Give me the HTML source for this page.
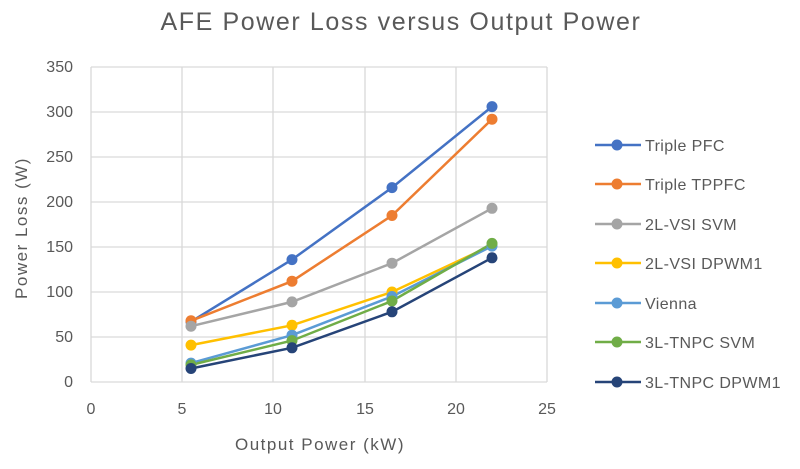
<!DOCTYPE html><html><head><style>body{margin:0;background:#fff}svg text{font-family:"Liberation Sans",sans-serif;fill:#595959}</style></head><body>
<svg width="800" height="464" xmlns="http://www.w3.org/2000/svg">
<text x="401" y="30" font-size="25" letter-spacing="1.6" text-anchor="middle">AFE Power Loss versus Output Power</text>
<g stroke="#d9d9d9" stroke-width="1.3">
<line x1="91" y1="67" x2="547" y2="67"/><line x1="91" y1="112" x2="547" y2="112"/><line x1="91" y1="157" x2="547" y2="157"/><line x1="91" y1="202" x2="547" y2="202"/><line x1="91" y1="247" x2="547" y2="247"/><line x1="91" y1="292" x2="547" y2="292"/><line x1="91" y1="337" x2="547" y2="337"/><line x1="91" y1="382" x2="547" y2="382"/>
<line x1="91" y1="67" x2="91" y2="382"/><line x1="182" y1="67" x2="182" y2="382"/><line x1="273" y1="67" x2="273" y2="382"/><line x1="365" y1="67" x2="365" y2="382"/><line x1="456" y1="67" x2="456" y2="382"/><line x1="547" y1="67" x2="547" y2="382"/>
</g>
<g font-size="16" text-anchor="end">
<text x="73" y="72">350</text><text x="73" y="117">300</text><text x="73" y="162">250</text><text x="73" y="207">200</text><text x="73" y="252">150</text><text x="73" y="297">100</text><text x="73" y="342">50</text><text x="73" y="387">0</text></g>
<g font-size="16" text-anchor="middle">
<text x="91" y="414">0</text><text x="182" y="414">5</text><text x="273" y="414">10</text><text x="365" y="414">15</text><text x="456" y="414">20</text><text x="547" y="414">25</text></g>
<text x="320" y="450" font-size="17" letter-spacing="1.5" text-anchor="middle">Output Power (kW)</text>
<text transform="translate(27,228) rotate(-90)" font-size="17" letter-spacing="1.5" text-anchor="middle">Power Loss (W)</text>
<g stroke-width="2.5" fill="none">
<polyline stroke="#4472C4" points="191,321.7 292,259.6 392,187.6 492,106.6"/>
<polyline stroke="#ED7D31" points="191,320.8 292,281.2 392,215.5 492,119.2"/>
<polyline stroke="#A5A5A5" points="191,326.2 292,301.9 392,263.2 492,208.3"/>
<polyline stroke="#FFC000" points="191,345.1 292,325.3 392,292 492,245.2"/>
<polyline stroke="#5B9BD5" points="191,363.1 292,335.2 392,296.5 492,246.1"/>
<polyline stroke="#70AD47" points="191,364.9 292,340.6 392,301 492,243.4"/>
<polyline stroke="#264478" points="191,368.5 292,347.8 392,311.8 492,257.8"/>
</g>
<g>
<g fill="#4472C4"><circle cx="191" cy="321.7" r="5.5"/><circle cx="292" cy="259.6" r="5.5"/><circle cx="392" cy="187.6" r="5.5"/><circle cx="492" cy="106.6" r="5.5"/></g>
<g fill="#ED7D31"><circle cx="191" cy="320.8" r="5.5"/><circle cx="292" cy="281.2" r="5.5"/><circle cx="392" cy="215.5" r="5.5"/><circle cx="492" cy="119.2" r="5.5"/></g>
<g fill="#A5A5A5"><circle cx="191" cy="326.2" r="5.5"/><circle cx="292" cy="301.9" r="5.5"/><circle cx="392" cy="263.2" r="5.5"/><circle cx="492" cy="208.3" r="5.5"/></g>
<g fill="#FFC000"><circle cx="191" cy="345.1" r="5.5"/><circle cx="292" cy="325.3" r="5.5"/><circle cx="392" cy="292" r="5.5"/><circle cx="492" cy="245.2" r="5.5"/></g>
<g fill="#5B9BD5"><circle cx="191" cy="363.1" r="5.5"/><circle cx="292" cy="335.2" r="5.5"/><circle cx="392" cy="296.5" r="5.5"/><circle cx="492" cy="246.1" r="5.5"/></g>
<g fill="#70AD47"><circle cx="191" cy="364.9" r="5.5"/><circle cx="292" cy="340.6" r="5.5"/><circle cx="392" cy="301" r="5.5"/><circle cx="492" cy="243.4" r="5.5"/></g>
<g fill="#264478"><circle cx="191" cy="368.5" r="5.5"/><circle cx="292" cy="347.8" r="5.5"/><circle cx="392" cy="311.8" r="5.5"/><circle cx="492" cy="257.8" r="5.5"/></g>
</g>
<g font-size="16" letter-spacing="0.4">
<line x1="595" y1="145" x2="641" y2="145" stroke="#4472C4" stroke-width="2.5"/><circle cx="617" cy="145" r="5.5" fill="#4472C4"/><text x="645" y="151">Triple PFC</text>
<line x1="595" y1="184" x2="641" y2="184" stroke="#ED7D31" stroke-width="2.5"/><circle cx="617" cy="184" r="5.5" fill="#ED7D31"/><text x="645" y="190">Triple TPPFC</text>
<line x1="595" y1="224" x2="641" y2="224" stroke="#A5A5A5" stroke-width="2.5"/><circle cx="617" cy="224" r="5.5" fill="#A5A5A5"/><text x="645" y="230">2L-VSI SVM</text>
<line x1="595" y1="263" x2="641" y2="263" stroke="#FFC000" stroke-width="2.5"/><circle cx="617" cy="263" r="5.5" fill="#FFC000"/><text x="645" y="269">2L-VSI DPWM1</text>
<line x1="595" y1="303" x2="641" y2="303" stroke="#5B9BD5" stroke-width="2.5"/><circle cx="617" cy="303" r="5.5" fill="#5B9BD5"/><text x="645" y="309">Vienna</text>
<line x1="595" y1="342" x2="641" y2="342" stroke="#70AD47" stroke-width="2.5"/><circle cx="617" cy="342" r="5.5" fill="#70AD47"/><text x="645" y="348">3L-TNPC SVM</text>
<line x1="595" y1="382" x2="641" y2="382" stroke="#264478" stroke-width="2.5"/><circle cx="617" cy="382" r="5.5" fill="#264478"/><text x="645" y="388">3L-TNPC DPWM1</text>
</g>
</svg></body></html>
